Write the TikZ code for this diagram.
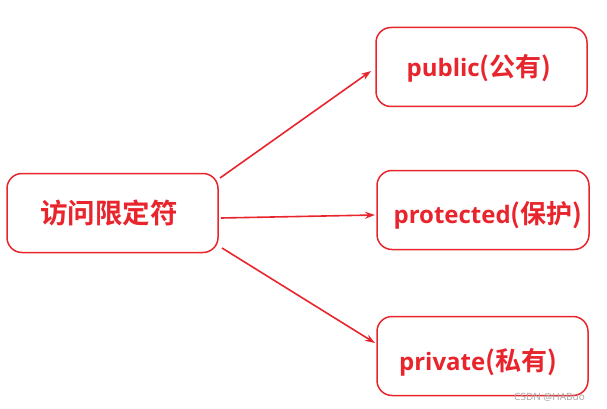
\documentclass[tikz,border=0pt]{standalone}
\usepackage{fontspec}
\newfontfamily\cjk{Noto Sans CJK SC Bold}
\newfontfamily\lat{Open Sans}
\usetikzlibrary{arrows.meta}
\definecolor{rd}{RGB}{232,36,44}
\definecolor{wm}{RGB}{165,165,165}
\tikzset{
  box/.style={draw=rd, line width=1.5pt, rounded corners=15pt, minimum width=#1, minimum height=79pt, inner sep=0pt},
  lbl/.style={text=rd, font=\cjk\fontsize{26}{30}\selectfont},
  arr/.style={draw=rd, line width=1.6pt, -{Stealth[length=10pt,width=7pt]}}
}
\begin{document}
\begin{tikzpicture}[x=1pt,y=-1pt]
\useasboundingbox (0,0) rectangle (607,409);
\node[box=211pt] (acc) at (112.5,213) {};
\node[box=211pt] (pub) at (481.5,67) {};
\node[box=212pt] (pro) at (483,210) {};
\node[box=211pt] (pri) at (482.5,356) {};
\node[lbl, font=\cjk\fontsize{27.5}{31}\selectfont] (accT) at (109,213) {访问限定符};
\node[lbl] (pubT) at (479,68) {{\lat\bfseries\fontsize{24}{28}\selectfont public}(公有)};
\node[lbl] (proT) at (488,215) {{\lat\bfseries\fontsize{24}{28}\selectfont protected}(保护)};
\node[lbl] (priT) at (478,362) {{\lat\bfseries\fontsize{24}{28}\selectfont private}(私有)};
\coordinate (s1) at (220,178);
\coordinate (e1) at (371,71);
\coordinate (s2) at (221,218);
\coordinate (e2) at (375,215);
\coordinate (s3) at (222,248);
\coordinate (e3) at (375,343);
\draw[arr] (s1) -- (e1);
\draw[arr] (s2) -- (e2);
\draw[arr] (s3) -- (e3);
\node[text=wm, font=\lat\fontsize{10}{11}\selectfont, anchor=east, inner sep=0pt] (wmk) at (585,397) {CSDN @HABuo};
\end{tikzpicture}
\end{document}
